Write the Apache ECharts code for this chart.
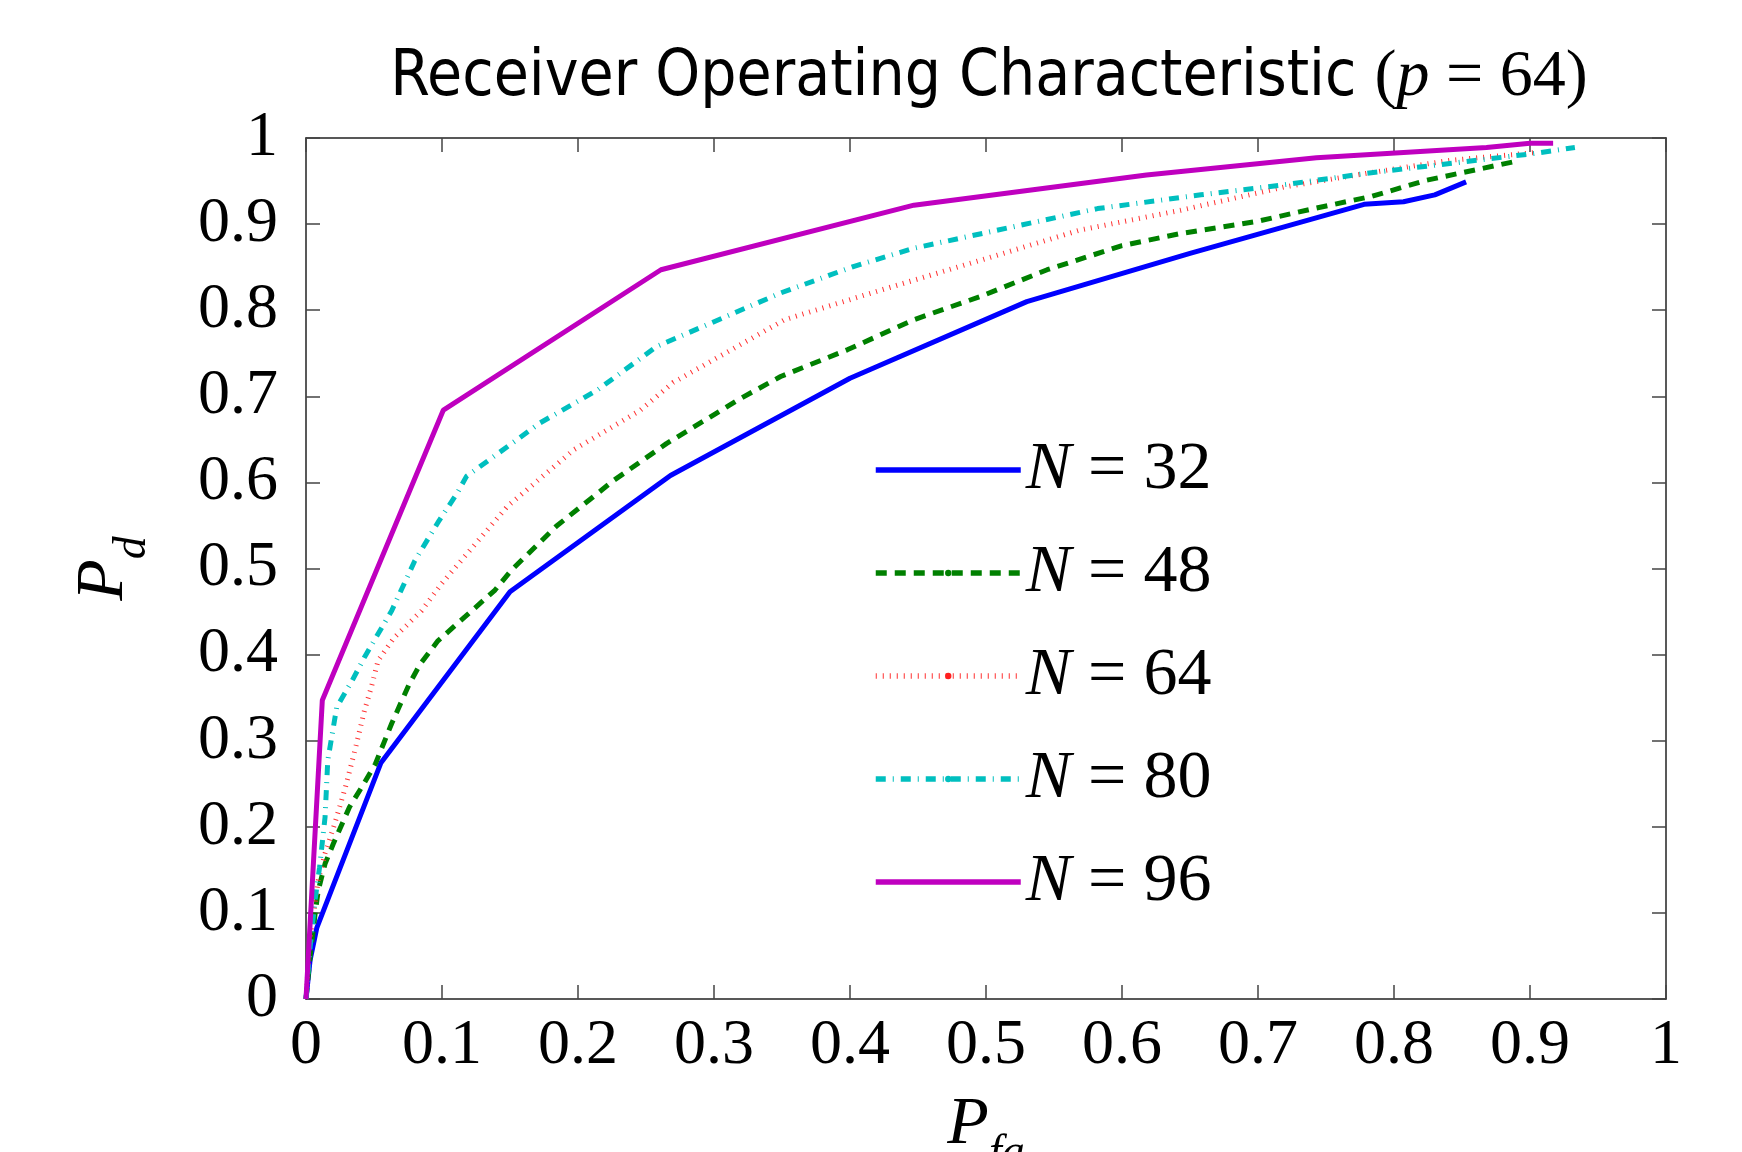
<!DOCTYPE html>
<html>
<head>
<meta charset="utf-8">
<script src="https://cdn.jsdelivr.net/npm/echarts@6/dist/echarts.min.js"></script>
<style>
html, body { margin: 0; padding: 0; background: #fff; }
#roc { width: 1742px; height: 1152px; }
</style>
</head>
<body>
<div id="roc"></div>
<script>
// P_fa / P_d values, one pair of arrays per N
var pfa32 = [0, 0.003, 0.008, 0.055, 0.15, 0.268, 0.4, 0.53, 0.65, 0.778, 0.807, 0.83, 0.853];
var pd32  = [0, 0.045, 0.083, 0.274, 0.473, 0.608, 0.721, 0.81, 0.866, 0.923, 0.926, 0.934, 0.949];

var pfa48 = [0, 0.003, 0.007, 0.009, 0.014, 0.02, 0.032, 0.041, 0.051, 0.063, 0.076, 0.084, 0.097, 0.117, 0.139, 0.151, 0.184, 0.226, 0.265, 0.319, 0.349, 0.398, 0.447, 0.496, 0.545, 0.6, 0.643, 0.699, 0.741, 0.783, 0.824, 0.866, 0.89];
var pd48  = [0, 0.049, 0.103, 0.126, 0.157, 0.18, 0.223, 0.246, 0.273, 0.32, 0.366, 0.389, 0.416, 0.444, 0.475, 0.498, 0.549, 0.602, 0.645, 0.697, 0.723, 0.754, 0.789, 0.816, 0.847, 0.875, 0.889, 0.903, 0.918, 0.932, 0.951, 0.965, 0.973];

var pfa64 = [0, 0.003, 0.009, 0.014, 0.021, 0.029, 0.036, 0.043, 0.048, 0.053, 0.065, 0.085, 0.1, 0.148, 0.197, 0.246, 0.27, 0.352, 0.422, 0.496, 0.569, 0.643, 0.719, 0.78, 0.841, 0.903];
var pd64  = [0, 0.07, 0.138, 0.169, 0.203, 0.246, 0.289, 0.335, 0.362, 0.393, 0.42, 0.451, 0.483, 0.572, 0.638, 0.684, 0.716, 0.789, 0.823, 0.858, 0.893, 0.916, 0.943, 0.959, 0.974, 0.983];

var pfa80 = [0, 0.003, 0.0066, 0.01, 0.014, 0.016, 0.0226, 0.034, 0.043, 0.063, 0.08, 0.098, 0.111, 0.118, 0.172, 0.214, 0.258, 0.349, 0.403, 0.447, 0.582, 0.658, 0.716, 0.78, 0.903, 0.933];
var pd80  = [0, 0.06, 0.114, 0.153, 0.211, 0.277, 0.339, 0.37, 0.397, 0.451, 0.509, 0.556, 0.587, 0.607, 0.669, 0.707, 0.758, 0.82, 0.851, 0.872, 0.918, 0.934, 0.945, 0.959, 0.982, 0.989];

var pfa96 = [0, 0.012, 0.101, 0.261, 0.447, 0.618, 0.743, 0.868, 0.9, 0.917];
var pd96  = [0, 0.347, 0.684, 0.847, 0.922, 0.957, 0.977, 0.989, 0.994, 0.994];

var seriesNames = ['N=32', 'N=48', 'N=64', 'N=80', 'N=96'];

function zip(xs, ys) {
    return xs.map(function (x, i) { return [x, ys[i]]; });
}

var serif = 'Liberation Serif';
var axisColor = '#222';

var chart = echarts.init(document.getElementById('roc'));

function frameAxis(position, showLabel) {
    return {
        type: 'value', min: 0, max: 1, interval: 0.1,
        position: position,
        axisLine: { show: true, onZero: false, lineStyle: { color: axisColor, width: 1.5 } },
        axisTick: { show: true, inside: true, length: 14, lineStyle: { color: '#444', width: 1.5 } },
        axisLabel: showLabel ? { fontFamily: serif, fontSize: 64, color: '#000' } : { show: false },
        splitLine: { show: false }
    };
}

var nameRich = {
    p: { fontFamily: serif, fontStyle: 'italic', fontSize: 68, lineHeight: 68, verticalAlign: 'top', color: '#000' },
    s: { fontFamily: serif, fontStyle: 'italic', fontSize: 46, lineHeight: 46, padding: [40, 0, 0, 0], verticalAlign: 'top', color: '#000' }
};

var xBottom = frameAxis('bottom', true);
xBottom.axisLabel.margin = 15;
xBottom.name = '{p|P}{s|fa}';
xBottom.nameLocation = 'middle';
xBottom.nameGap = 92;
xBottom.nameTextStyle = { rich: nameRich };

var yLeft = frameAxis('left', true);
yLeft.axisLabel.margin = 28;
yLeft.name = '{p|P}{s|d}';
yLeft.nameLocation = 'middle';
yLeft.nameGap = 168;
yLeft.nameTextStyle = { rich: nameRich };

var legendText = { fontFamily: serif, fontSize: 68, lineHeight: 70, color: '#000' };

var option = {
    backgroundColor: '#fff',
    animation: false,
    title: {
        text: '{s|Receiver Operating Characteristic }{m|(}{i|p}{m| = 64)}',
        left: 984,
        textAlign: 'center',
        top: 40,
        textStyle: {
            fontWeight: 'normal',
            rich: {
                s: { fontFamily: 'Liberation Sans Narrow, DejaVu Sans Condensed, Roboto', fontWeight: 'normal', fontSize: 63.5, color: '#000' },
                m: { fontFamily: serif, fontWeight: 'normal', fontSize: 66, color: '#000' },
                i: { fontFamily: serif, fontWeight: 'normal', fontStyle: 'italic', fontSize: 66, color: '#000' }
            }
        }
    },
    grid: {
        left: 306, right: 76, top: 138, bottom: 153,
        outerBoundsMode: 'none'
    },
    legend: {
        orient: 'vertical',
        left: 868,
        top: 431,
        itemWidth: 145,
        itemHeight: 8,
        itemGap: 35,
        lineStyle: { width: 5.5 },
        data: [
            { name: 'N=32', itemStyle: { opacity: 0 } },
            { name: 'N=48' },
            { name: 'N=64', lineStyle: { width: 5.5 } },
            { name: 'N=80' },
            { name: 'N=96', itemStyle: { opacity: 0 } }
        ],
        formatter: function (name) {
            return '{n|N}{e| = }{v|' + name.split('=')[1] + '}';
        },
        textStyle: {
            rich: {
                n: Object.assign({ fontStyle: 'italic' }, legendText),
                e: legendText,
                v: legendText
            }
        }
    },
    xAxis: [xBottom, frameAxis('top', false)],
    yAxis: [yLeft, frameAxis('right', false)],
    series: [
        {
            name: seriesNames[0], type: 'line', data: zip(pfa32, pd32),
            symbol: 'none',
            color: '#0000ff',
            lineStyle: { color: '#0000ff', width: 5 }
        },
        {
            name: seriesNames[1], type: 'line', data: zip(pfa48, pd48),
            symbol: 'circle', symbolSize: 6, showSymbol: false,
            color: '#008000',
            lineStyle: { color: '#008000', width: 5, type: [11, 8] }
        },
        {
            name: seriesNames[2], type: 'line', data: zip(pfa64, pd64),
            symbol: 'circle', symbolSize: 6, showSymbol: false,
            color: '#ff2020',
            lineStyle: { color: '#ff3030', width: 5, type: [1, 6] }
        },
        {
            name: seriesNames[3], type: 'line', data: zip(pfa80, pd80),
            symbol: 'circle', symbolSize: 6, showSymbol: false,
            color: '#00bfbf',
            lineStyle: { color: '#00bfbf', width: 5, type: [10, 7, 1, 7] }
        },
        {
            name: seriesNames[4], type: 'line', data: zip(pfa96, pd96),
            symbol: 'none',
            color: '#bf00bf',
            lineStyle: { color: '#bf00bf', width: 5 }
        }
    ]
};

chart.setOption(option);
</script>
</body>
</html>
